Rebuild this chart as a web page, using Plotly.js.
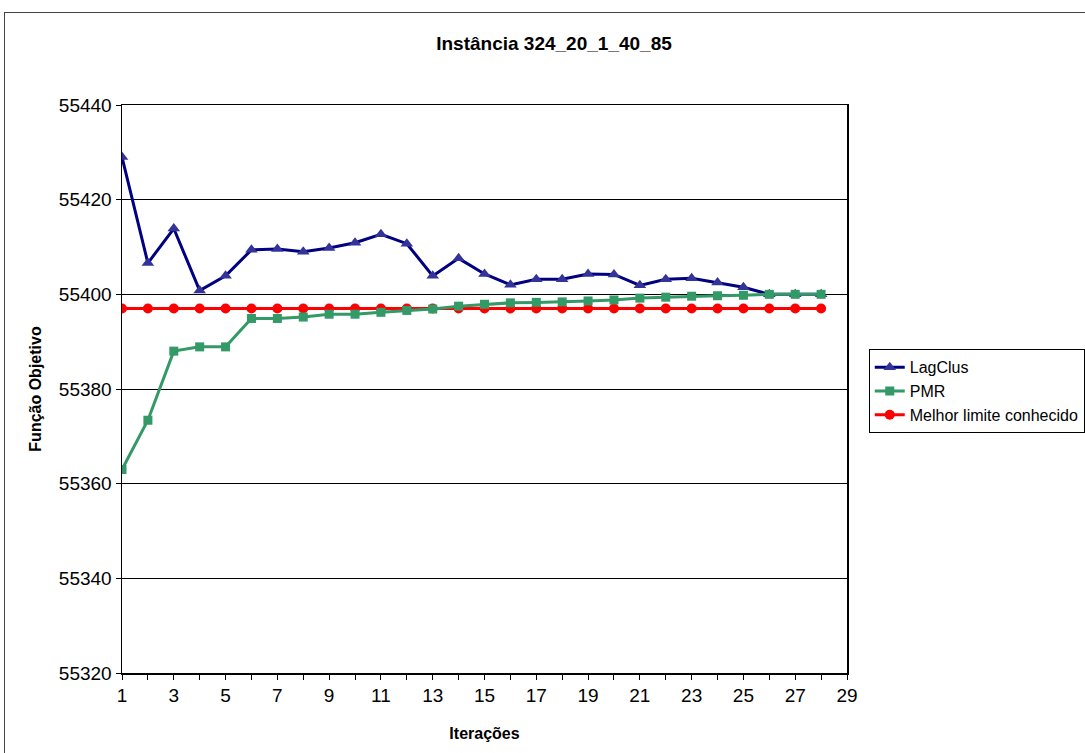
<!DOCTYPE html>
<html><head><meta charset="utf-8">
<script src="https://cdn.plot.ly/plotly-3.0.1.min.js"></script>
<style>
html,body{margin:0;padding:0;background:#fff;overflow:hidden;}
#chart{position:absolute;left:0;top:0;width:1085px;height:753px;}
#frame{position:absolute;left:4px;top:12px;width:1200px;height:800px;border:1.5px solid #444;pointer-events:none;}
</style></head>
<body>
<div id="chart"></div>
<div id="frame"></div>
<script>
const iteracoes = [1,2,3,4,5,6,7,8,9,10,11,12,13,14,15,16,17,18,19,20,21,22,23,24,25,26,27,28];
const lagClus = [55429.0,55406.6,55413.9,55400.8,55403.9,55409.4,55409.6,55409.0,55409.8,55410.9,55412.7,55410.7,55403.9,55407.6,55404.3,55402.0,55403.2,55403.2,55404.3,55404.2,55401.9,55403.2,55403.4,55402.5,55401.5,55400.0,55400.0,55400.0];
const pmr = [55363.0,55373.4,55388.0,55388.9,55388.9,55394.9,55394.9,55395.2,55395.8,55395.8,55396.2,55396.6,55396.9,55397.5,55397.9,55398.2,55398.3,55398.4,55398.6,55398.8,55399.2,55399.4,55399.6,55399.7,55399.8,55400.0,55400.0,55400.0];
const melhorLimite = [55397,55397,55397,55397,55397,55397,55397,55397,55397,55397,55397,55397,55397,55397,55397,55397,55397,55397,55397,55397,55397,55397,55397,55397,55397,55397,55397,55397];
const seriesNames = ['LagClus','PMR','Melhor limite conhecido'];

const font = 'Liberation Sans, Arial, sans-serif';
const traces = [
  {x: iteracoes, y: lagClus, name: seriesNames[0], mode: 'lines+markers', legendrank: 1,
   line: {color: '#000080', width: 3}, marker: {symbol: 'triangle-up', size: 11, color: '#333399'}},
  {x: iteracoes, y: melhorLimite, name: seriesNames[2], mode: 'lines+markers', legendrank: 3,
   line: {color: '#FF0000', width: 3}, marker: {symbol: 'circle', size: 10, color: '#FF0000'}},
  {x: iteracoes, y: pmr, name: seriesNames[1], mode: 'lines+markers', legendrank: 2,
   line: {color: '#339966', width: 3}, marker: {symbol: 'square', size: 9, color: '#339966'}}
];
const layout = {
  width: 1085, height: 753,
  margin: {l: 122, r: 238, t: 105, b: 80, autoexpand: false},
  paper_bgcolor: '#fff', plot_bgcolor: '#fff',
  font: {family: font, size: 13, color: '#000'},
  title: {text: '<b>Instância 324_20_1_40_85</b>', font: {family: font, size: 19, color: '#000'},
          x: 0.5106, xref: 'container', y: 0.942, yref: 'container', yanchor: 'middle'},
  xaxis: {range: [1, 29], dtick: 2, tick0: 1, ticks: 'outside', ticklen: 5, tickcolor: '#000',
          showgrid: false, zeroline: false, showline: true, linecolor: '#000', linewidth: 1.5, mirror: true,
          tickfont: {family: font, size: 19},
          minor: {dtick: 1, tick0: 1, ticks: 'outside', ticklen: 5, tickcolor: '#000', showgrid: false},
          title: {text: '<b>Iterações</b>', font: {family: font, size: 16}, standoff: 22}},
  yaxis: {range: [55320, 55440], dtick: 20, tick0: 55320, ticks: 'outside', ticklen: 5, tickcolor: '#000',
          showgrid: true, gridcolor: '#000', gridwidth: 1, zeroline: false,
          showline: true, linecolor: '#000', linewidth: 1.5, mirror: true,
          tickfont: {family: font, size: 19}, tickformat: 'd',
          title: {text: '<b>Função Objetivo</b>', font: {family: font, size: 16}, standoff: 13}},
  legend: {x: 1.030, xanchor: 'left', y: 0.570, yanchor: 'top', bordercolor: '#000', borderwidth: 1,
           font: {family: font, size: 16}, traceorder: 'normal', tracegroupgap: 0, itemwidth: 30},
  showlegend: true
};
Plotly.newPlot('chart', traces, layout, {displayModeBar: false, staticPlot: true});
</script>
</body></html>
